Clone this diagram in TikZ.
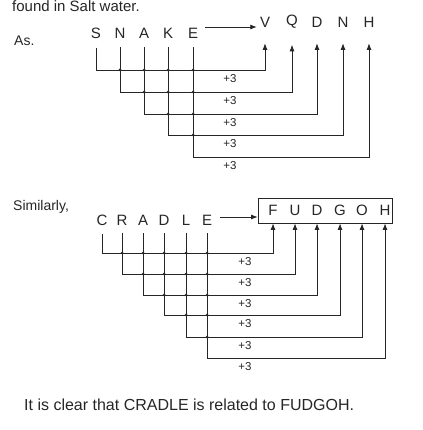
\documentclass[tikz,border=0pt]{standalone}
\usepackage{fontspec}
\setmainfont{Liberation Sans}
\usetikzlibrary{arrows.meta,positioning,calc}

\tikzset{
  letter/.style={font=\fontsize{15}{17}\selectfont, inner sep=0pt, text=black!85},
  plus/.style={font=\fontsize{11.5}{13}\selectfont, inner sep=0pt, text=black!85},
  txt/.style={font=\fontsize{14}{16}\selectfont, inner sep=0pt, anchor=west, text=black!85},
  wire/.style={line width=0.8pt, draw=black!85, -{Latex[length=6.5pt,width=5pt]}, shorten <=9pt},
}

\begin{document}
\begin{tikzpicture}[x=1pt,y=-1pt]
  \useasboundingbox (0,0) rectangle (422,430);
  \node[txt, font=\fontsize{15}{17}\selectfont, anchor=base west] (intro) at (12,12) {found in Salt water.}; % 上端で切れている前文
  \node[txt] (as) at (14,41) {As.};
  \foreach \n/\c/\x in {1/S/96,2/N/120,3/A/144,4/K/168,5/E/193}
    \node[letter] (s\n) at (\x,33) {\c}; % もとの語 SNAKE
  \foreach \n/\c/\x in {1/V/265,2/Q/292,3/D/317,4/N/343,5/H/369}
    \node[letter] (v\n) at (\x,22) {\c}; % 変換後 VQDNH
  \coordinate (t1) at ([yshift=6pt]s5.east);
  \draw[wire, shorten <=7pt, shorten >=3pt] (t1) -- (t1 -| v1.west); % 横向きの矢印
  \foreach \i/\y in {1/70,2/92,3/114,4/135,5/157} {
    \coordinate (row\i) at (0,\y);
    \draw[wire, shorten >=16pt] (s\i.south) |- (v\i.south |- row\i) -- (v\i.south); % 文字から文字へ
    \node[plus] (p\i) at (230,\y+9) {+3};
  }
  \foreach \j in {2,...,5} {
    \pgfmathtruncatemacro\k{\j-1}
    \foreach \i in {1,...,\k}
      \fill[black!85] (s\j |- row\i) circle (1.5); % 交点の点
  }

  \node[txt] (sim) at (13,207) {Similarly,};
  \foreach \n/\c/\x in {1/C/102,2/R/122,3/A/143,4/D/164,5/L/186,6/E/207}
    \node[letter] (c\n) at (\x,220) {\c}; % もとの語 CRADLE
  \foreach \n/\c/\x in {1/F/273,2/U/295,3/D/317,4/G/340,5/O/362,6/H/385}
    \node[letter] (f\n) at (\x,210) {\c}; % 変換後 FUDGOH
  \node[draw=black!85, line width=0.8pt, minimum width=134pt, minimum height=25pt, inner sep=0pt] (box) at (325,210.5) {}; % 答えの枠
  \coordinate (t2) at ([yshift=3pt]c6.east);
  \draw[wire, shorten <=8pt] (t2) -- (t2 -| box.west);
  \foreach \i/\y in {1/253,2/274,3/295,4/315,5/337,6/358} {
    \coordinate (low\i) at (0,\y);
    \draw[wire, shorten <=8pt] (c\i.south) |- (f\i |- low\i) -- (f\i |- box.south);
    \node[plus] (q\i) at (245,\y+9) {+3};
  }
  \foreach \j in {2,...,6} {
    \pgfmathtruncatemacro\k{\j-1}
    \foreach \i in {1,...,\k}
      \fill[black!85] (c\j |- low\i) circle (1.5);
  }

  \node[txt, font=\fontsize{16}{18}\selectfont] (concl) at (24,405) {It is clear that CRADLE is related to FUDGOH.}; % 結論
\end{tikzpicture}
\end{document}
